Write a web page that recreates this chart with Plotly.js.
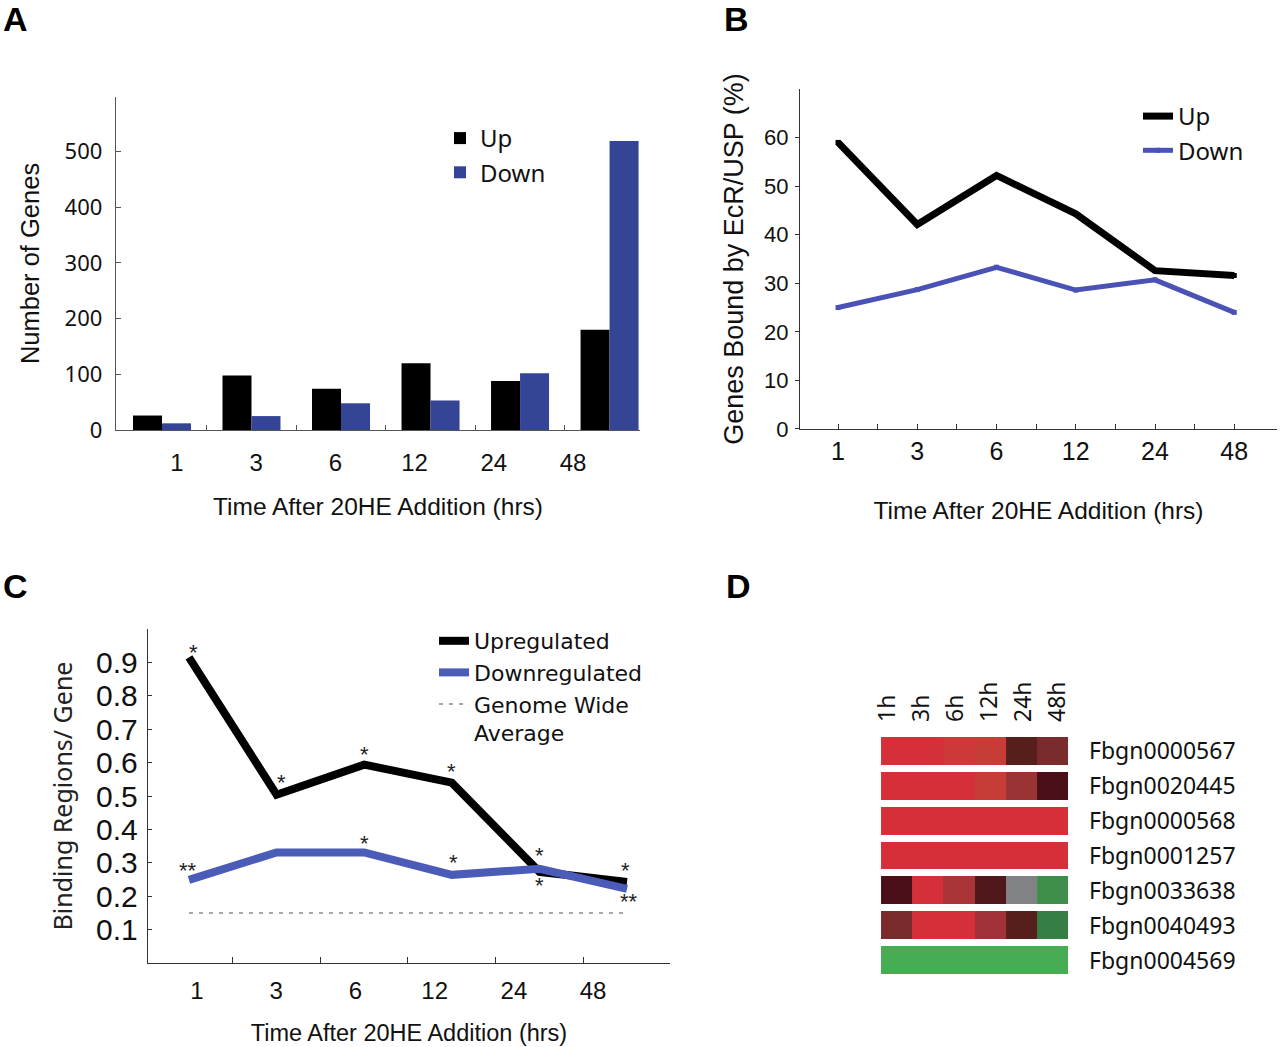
<!DOCTYPE html>
<html><head><meta charset="utf-8">
<script src="https://cdn.plot.ly/plotly-3.0.1.min.js"></script>
<style>html,body{margin:0;padding:0;background:#fff}#chart{width:1280px;height:1047px}</style>
</head><body><div id="chart"></div>
<script>
// ---------- DATA ----------
const timeCats = ['1', '3', '6', '12', '24', '48'];
// Panel A: number of genes
const genesUp = [26, 98, 74, 120, 88, 180];
const genesDown = [12, 25, 48, 53, 102, 519];
// Panel B: genes bound by EcR/USP (%)
const boundUp = [59.0, 42.1, 52.2, 44.3, 32.6, 31.6];
const boundDown = [25.0, 28.7, 33.3, 28.6, 30.7, 24.0];
// Panel C: binding regions per gene
const regionsUp = [0.915, 0.504, 0.594, 0.540, 0.273, 0.243];
const regionsDown = [0.249, 0.331, 0.331, 0.264, 0.282, 0.222];
const genomeWide = [0.15, 0.15, 0.15, 0.15, 0.15, 0.15];
const starsUp = ['*', '*', '*', '*', '*', '*'];
const starsDown = ['**', '', '*', '*', '*', '**'];
// Panel D: heatmap
const heatCols = ['1h', '3h', '6h', '12h', '24h', '48h'];
const heatGenes = ['Fbgn0000567', 'Fbgn0020445', 'Fbgn0000568', 'Fbgn0001257', 'Fbgn0033638', 'Fbgn0040493', 'Fbgn0004569'];
const heatZ = [
  [3, 3, 2.85, 2.75, 1.0, 1.45],
  [3, 3, 3, 2.75, 1.9, 0.8],
  [3, 3, 3, 3, 3, 3],
  [3, 3, 3, 3, 3, 3],
  [0.8, 3, 2.2, 0.9, null, -2.3],
  [1.45, 3, 3, 2.05, 1.0, -2.05],
  [-3, -3, -3, -3, -3, -3]
];

// ---------- STYLE ----------
const HELV = 'Liberation Sans, Arial, Helvetica, sans-serif';
const MYR = 'Noto Sans, Open Sans, sans-serif';
const DJV = 'DejaVu Sans, sans-serif';
const TXT = '#111';
const idx = timeCats.map((c, i) => i);
const halfTicks = idx.slice(0, -1).map(i => i + 0.5);
const colIdx = heatCols.map((c, i) => i);

const heatScale = [
  [0, '#47ad52'], [0.117, '#3e8e4b'], [0.158, '#367f44'], [0.5, '#1c0a0b'],
  [0.633, '#4b0f18'], [0.667, '#561f1c'], [0.742, '#7a2c2c'], [0.817, '#9a3333'],
  [0.842, '#a2323a'], [0.867, '#aa3539'], [0.958, '#c53d36'], [0.975, '#cd3838'], [1, '#d5303a']
];

const dummy = (xa, ya, yv) => ({type: 'scatter', mode: 'markers', x: idx, y: idx.map(() => yv),
  xaxis: xa, yaxis: ya, marker: {opacity: 0}, showlegend: false, hoverinfo: 'skip'});

const traces = [
  // A
  {type: 'bar', x: idx, y: genesUp, name: 'Up', marker: {color: '#000'}, xaxis: 'x', yaxis: 'y', legend: 'legend'},
  {type: 'bar', x: idx, y: genesDown, name: 'Down', marker: {color: '#344596'}, xaxis: 'x', yaxis: 'y', legend: 'legend'},
  dummy('x2', 'y', 0),
  // B
  {type: 'scatter', mode: 'lines+markers', x: idx, y: boundUp, name: 'Up', line: {color: '#000', width: 7},
    marker: {color: '#000', size: 5, symbol: 'square'}, xaxis: 'x3', yaxis: 'y3', legend: 'legend2'},
  {type: 'scatter', mode: 'lines+markers', x: idx, y: boundDown, name: 'Down', line: {color: '#4a52b6', width: 5},
    marker: {color: '#4a52b6', size: 5, symbol: 'square'}, xaxis: 'x3', yaxis: 'y3', legend: 'legend2'},
  // C
  {type: 'scatter', mode: 'lines', x: idx, y: regionsUp, name: 'Upregulated', line: {color: '#000', width: 8},
    xaxis: 'x4', yaxis: 'y4', legend: 'legend3'},
  {type: 'scatter', mode: 'lines', x: idx, y: regionsDown, name: 'Downregulated', line: {color: '#4a5bb8', width: 8},
    xaxis: 'x4', yaxis: 'y4', legend: 'legend3'},
  {type: 'scatter', mode: 'lines', x: idx, y: genomeWide, name: 'Genome Wide<br>Average', line: {color: '#8a8a8a', width: 1.5, dash: '4px,6px'},
    xaxis: 'x4', yaxis: 'y4', legend: 'legend3'},
  dummy('x5', 'y4', 0),
  // D
  {type: 'heatmap', x: colIdx, y: heatGenes, z: heatZ.map(r => r.map(v => v === null ? 1 : null)),
    colorscale: [[0, '#808285'], [1, '#808285']], showscale: false, ygap: 7, xgap: 0,
    xaxis: 'x6', yaxis: 'y6', hoverinfo: 'skip'},
  {type: 'heatmap', x: colIdx, y: heatGenes, z: heatZ, zmin: -3, zmax: 3, colorscale: heatScale,
    showscale: false, ygap: 7, xgap: 0, xaxis: 'x6', yaxis: 'y6'},
  {type: 'scatter', mode: 'markers', x: colIdx, y: colIdx.map(() => heatGenes[0]), xaxis: 'x7', yaxis: 'y6',
    marker: {opacity: 0}, showlegend: false, hoverinfo: 'skip'}
];

const base = {showgrid: false, zeroline: false, fixedrange: true};
const starAnn = [];
const upShift = [{dx: 5, dy: 5}, {dx: 5, dy: 12}, {dx: 0, dy: 10}, {dx: 0, dy: 11}, {dx: 0, dy: 16}, {dx: -2, dy: 11}];
const downShift = [{dx: -1, dy: 9}, null, {dx: 0, dy: 9}, {dx: 2, dy: 12}, {dx: 0, dy: -17}, {dx: 2, dy: -13}];
idx.forEach(i => {
  if (starsUp[i]) starAnn.push({x: i, y: regionsUp[i], xref: 'x4', yref: 'y4', text: starsUp[i], showarrow: false,
    xshift: upShift[i].dx, yshift: upShift[i].dy, font: {family: HELV, size: 22, color: '#222'}});
  if (starsDown[i]) starAnn.push({x: i, y: regionsDown[i], xref: 'x4', yref: 'y4', text: starsDown[i], showarrow: false,
    xshift: downShift[i].dx, yshift: downShift[i].dy, font: {family: HELV, size: 22, color: '#222'}});
});
const panelLab = (t, x, y) => ({text: '<b>' + t + '</b>', x: x / 1280, y: 1 - y / 1047, xref: 'paper', yref: 'paper',
  xanchor: 'left', yanchor: 'top', showarrow: false, font: {family: HELV, size: 34, color: '#000'}});

const legendBase = {xanchor: 'left', yanchor: 'top', bgcolor: 'rgba(0,0,0,0)', borderwidth: 0, itemclick: false, itemdoubleclick: false};

const layout = {
  width: 1280, height: 1047, margin: {l: 0, r: 0, t: 0, b: 0},
  paper_bgcolor: '#fff', plot_bgcolor: 'rgba(0,0,0,0)',
  barmode: 'group', bargap: 0.352, bargroupgap: 0,
  font: {family: HELV, color: TXT},
  // ----- A -----
  xaxis: Object.assign({}, base, {domain: [0.0906, 0.5], anchor: 'y', range: [-0.514, 5.34], tickvals: halfTicks,
    ticks: 'inside', ticklen: 5, tickcolor: '#555', showticklabels: false, showline: true, linecolor: '#555', linewidth: 1.2}),
  xaxis2: Object.assign({}, base, {overlaying: 'x', anchor: 'y', range: [-0.770, 5.846], tickvals: idx, ticktext: timeCats,
    ticks: '', showline: false, tickfont: {family: HELV, size: 24, color: TXT}, ticklabelstandoff: 16,
    title: {text: 'Time After 20HE Addition (hrs)', font: {family: HELV, size: 24.5, color: TXT}, standoff: 22}}),
  yaxis: Object.assign({}, base, {domain: [0.5893, 0.9074], anchor: 'x', range: [0, 598], tickvals: [0, 100, 200, 300, 400, 500],
    ticks: 'inside', ticklen: 5, tickcolor: '#555', showline: true, linecolor: '#555', linewidth: 1.2,
    tickfont: {family: MYR, size: 22, color: TXT}, ticklabelstandoff: 8,
    title: {text: 'Number of Genes', font: {family: HELV, size: 25.5, color: TXT}, standoff: 17}}),
  // ----- B -----
  xaxis3: Object.assign({}, base, {domain: [0.625, 0.9977], anchor: 'y3', range: [-0.48, 5.54], tickvals: idx, ticktext: timeCats,
    ticks: 'inside', ticklen: 5, tickcolor: '#333', showline: true, linecolor: '#333', linewidth: 1.2,
    minor: {tickvals: halfTicks, ticks: 'inside', ticklen: 5, tickcolor: '#333'},
    tickfont: {family: HELV, size: 25, color: TXT}, ticklabelstandoff: 0,
    title: {text: 'Time After 20HE Addition (hrs)', font: {family: HELV, size: 24.5, color: TXT}, standoff: 37}}),
  yaxis3: Object.assign({}, base, {domain: [0.5903, 0.915], anchor: 'x3', range: [0, 70], tickvals: [0, 10, 20, 30, 40, 50, 60],
    ticks: 'outside', ticklen: 4, tickcolor: '#333', showline: true, linecolor: '#333', linewidth: 1.2,
    tickfont: {family: HELV, size: 22, color: TXT}, ticklabelstandoff: 2,
    title: {text: 'Genes Bound by EcR/USP (%)', font: {family: HELV, size: 27, color: TXT}, standoff: 12}}),
  // ----- C -----
  xaxis4: Object.assign({}, base, {domain: [0.1156, 0.5234], anchor: 'y4', range: [-0.468, 5.49], tickvals: halfTicks,
    ticks: 'inside', ticklen: 6, tickcolor: '#333', showticklabels: false, showline: true, linecolor: '#333', linewidth: 1.2}),
  xaxis5: Object.assign({}, base, {overlaying: 'x4', anchor: 'y4', range: [-0.619, 5.97], tickvals: idx, ticktext: timeCats,
    ticks: '', showline: false, tickfont: {family: HELV, size: 24, color: TXT}, ticklabelstandoff: 11,
    title: {text: 'Time After 20HE Addition (hrs)', font: {family: HELV, size: 23.5, color: TXT}, standoff: 21}}),
  yaxis4: Object.assign({}, base, {domain: [0.0802, 0.3992], anchor: 'x4', range: [0, 1.0],
    tickvals: [0.1, 0.2, 0.3, 0.4, 0.5, 0.6, 0.7, 0.8, 0.9], ticks: 'inside', ticklen: 4, tickcolor: '#333',
    showline: true, linecolor: '#333', linewidth: 1.2, tickfont: {family: HELV, size: 30, color: TXT}, ticklabelstandoff: 3,
    title: {text: 'Binding Regions/ Gene', font: {family: MYR, size: 25, color: '#222'}, standoff: 16}}),
  // ----- D -----
  xaxis6: Object.assign({}, base, {domain: [0.6883, 0.8344], anchor: 'y6', range: [-0.5, 5.5], visible: false}),
  xaxis7: Object.assign({}, base, {overlaying: 'x6', anchor: 'y6', side: 'top', range: [-0.206, 5.294], tickvals: colIdx,
    ticktext: heatCols, ticks: '', showline: false, tickangle: -90, tickfont: {family: MYR, size: 23, color: TXT}, ticklabelstandoff: 11}),
  yaxis6: Object.assign({}, base, {domain: [0.0659, 0.2990], anchor: 'x6', type: 'category', categoryorder: 'array',
    categoryarray: heatGenes, autorange: 'reversed', side: 'right', ticks: '', showline: false,
    tickfont: {family: MYR, size: 23, color: TXT}, ticklabelstandoff: 20}),
  // ----- legends -----
  legend: Object.assign({}, legendBase, {x: 440 / 1280, y: 1 - 116 / 1047, font: {family: MYR, size: 24, color: TXT}}),
  legend2: Object.assign({}, legendBase, {x: 1138 / 1280, y: 1 - 94 / 1047, font: {family: MYR, size: 24, color: TXT}}),
  legend3: Object.assign({}, legendBase, {x: 434 / 1280, y: 1 - 620 / 1047, font: {family: DJV, size: 22, color: TXT}, valign: 'top'}),
  annotations: starAnn.concat([panelLab('A', 1, -2), panelLab('B', 722, -2), panelLab('C', 1, 565), panelLab('D', 724, 565)])
};

Plotly.newPlot('chart', traces, layout, {displayModeBar: false, staticPlot: true});
</script></body></html>
